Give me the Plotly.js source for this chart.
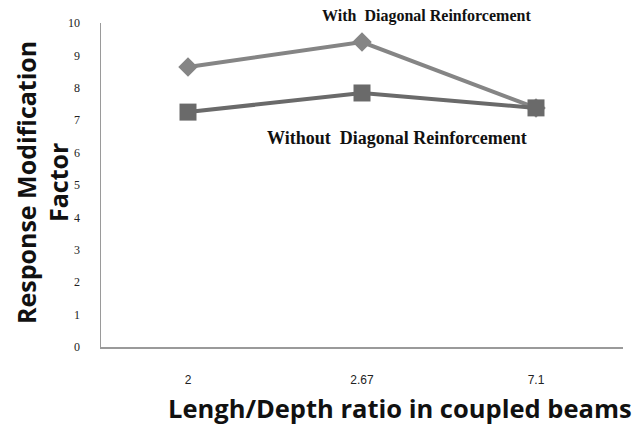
<!DOCTYPE html>
<html><head><meta charset="utf-8">
<script src="https://cdn.plot.ly/plotly-3.0.1.min.js"></script>
<style>body{margin:0;background:#fff}#c{width:638px;height:424px}</style>
</head><body><div id="c"></div>
<script>
var categories = ["2", "2.67", "7.1"];
var withDiag = [8.64, 9.41, 7.38];
var withoutDiag = [7.25, 7.84, 7.38];
var yTicks = [0,1,2,3,4,5,6,7,8,9,10];

var traces = [
  {x: categories, y: withDiag, type: 'scatter', mode: 'lines+markers', name: 'With Diagonal Reinforcement',
   line: {color: '#858585', width: 4}, marker: {symbol: 'diamond', size: 15, color: '#858585'}},
  {x: categories, y: withoutDiag, type: 'scatter', mode: 'lines+markers', name: 'Without Diagonal Reinforcement',
   line: {color: '#6a6a6a', width: 4}, marker: {symbol: 'square', size: 17, color: '#6a6a6a'}}
];

var L = 101, T = 23, W = 522, H = 324;
function px(x) { return (x - L) / W; }
function py(y) { return (T + H - y) / H; }
function note(text, x, y, size, family, angle) {
  return {text: text, xref: 'paper', yref: 'paper', x: px(x), y: py(y), xanchor: 'center', yanchor: 'middle',
    textangle: angle || 0, showarrow: false, font: {family: family, size: size, color: '#111'}};
}
var serif = 'Liberation Serif, Times New Roman, serif';
var sans = 'Open Sans, sans-serif';

var layout = {
  width: 638, height: 424,
  margin: {l: L, r: 638 - L - W, t: T, b: 424 - T - H},
  paper_bgcolor: '#fff', plot_bgcolor: '#fff',
  showlegend: false,
  xaxis: {type: 'category', range: [-0.5, 2.5], showgrid: false, zeroline: false,
    showline: true, linecolor: '#9a9a9a', linewidth: 1.5, ticks: '', ticklabelstandoff: 21,
    tickfont: {family: 'Liberation Sans, Arial, sans-serif', size: 12, color: '#222'}},
  yaxis: {range: [0, 10], tickvals: yTicks, showgrid: false, zeroline: false,
    showline: true, linecolor: '#9a9a9a', linewidth: 1.5, ticks: '', ticklabelstandoff: 17,
    tickfont: {family: serif, size: 12, color: '#222'}},
  annotations: [
    note('<b>With  Diagonal Reinforcement</b>', 426, 16, 16, serif),
    note('<b>Without  Diagonal Reinforcement</b>', 397, 138, 18, serif),
    note('<b>Lengh/Depth ratio in coupled beams</b>', 400, 408, 25.5, sans),
    note('<b>Response Modification</b>', 26, 183, 25, sans, -90),
    note('<b>Factor</b>', 58, 183, 25, sans, -90)
  ]
};
Plotly.newPlot('c', traces, layout, {displayModeBar: false, staticPlot: true});
</script></body></html>
